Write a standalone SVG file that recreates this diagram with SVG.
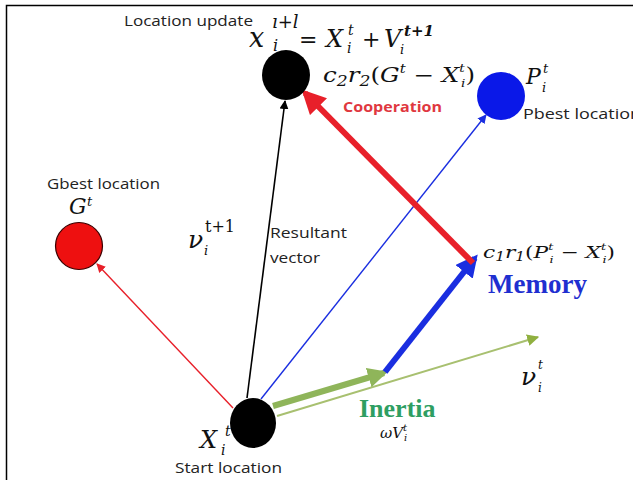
<svg xmlns="http://www.w3.org/2000/svg" width="633" height="480" viewBox="0 0 633 480">
<style>
.lbl{font-family:"Open Sans","Liberation Sans",Arial,sans-serif;font-size:14.5px;fill:#222}
.m{font-family:"DejaVu Serif","Liberation Serif",serif;font-style:italic;fill:#111}
.mu{font-family:"DejaVu Serif","Liberation Serif",serif;fill:#111}
.bold{font-family:"Liberation Serif","Times New Roman",serif;font-weight:bold}
</style>
<defs>
<marker id="hk" viewBox="0 0 10 10" refX="9" refY="5" markerWidth="9" markerHeight="9" markerUnits="userSpaceOnUse" orient="auto"><path d="M0,0 L10,5 L0,10 z" fill="#000"/></marker>
<marker id="hr" viewBox="0 0 10 10" refX="9" refY="5" markerWidth="9" markerHeight="9" markerUnits="userSpaceOnUse" orient="auto"><path d="M0,0 L10,5 L0,10 z" fill="#e8202a"/></marker>
<marker id="hb" viewBox="0 0 10 10" refX="9" refY="5" markerWidth="9" markerHeight="9" markerUnits="userSpaceOnUse" orient="auto"><path d="M0,0 L10,5 L0,10 z" fill="#1a2ee0"/></marker>
<marker id="hg" viewBox="0 0 10 10" refX="9" refY="5" markerWidth="12" markerHeight="12" markerUnits="userSpaceOnUse" orient="auto"><path d="M0,0 L10,5 L0,10 z" fill="#90b040"/></marker>
<marker id="HR" viewBox="0 0 10 10" refX="8" refY="5" markerWidth="24" markerHeight="24" markerUnits="userSpaceOnUse" orient="auto"><path d="M0,0 L10,5 L0,10 z" fill="#e8202a"/></marker>
<marker id="HB" viewBox="0 0 10 10" refX="8" refY="5" markerWidth="22" markerHeight="22" markerUnits="userSpaceOnUse" orient="auto"><path d="M0,0 L10,5 L0,10 z" fill="#1a2ee0"/></marker>
<marker id="HG" viewBox="0 0 10 10" refX="8" refY="5" markerWidth="20" markerHeight="20" markerUnits="userSpaceOnUse" orient="auto"><path d="M0,0 L10,5 L0,10 z" fill="#8fb55a"/></marker>
</defs>
<rect width="633" height="480" fill="#fff"/>
<path d="M6.5,480 V5.5 H633" fill="none" stroke="#000" stroke-width="1.5"/>

<g id="connectors" fill="none">
<line x1="247" y1="398" x2="285" y2="101" stroke="#000" stroke-width="1.6" marker-end="url(#hk)"/>
<line x1="233" y1="408" x2="97" y2="264" stroke="#e8202a" stroke-width="1.4" marker-end="url(#hr)"/>
<line x1="261" y1="399" x2="486" y2="115" stroke="#1a2ee0" stroke-width="1.4" marker-end="url(#hb)"/>
<line x1="277" y1="416" x2="538" y2="337" stroke="#a8c070" stroke-width="2" marker-end="url(#hg)"/>
<line x1="273" y1="406" x2="384" y2="373" stroke="#8fb55a" stroke-width="6" marker-end="url(#HG)"/>
<line x1="385" y1="372" x2="475" y2="258" stroke="#1a2ee0" stroke-width="6" marker-end="url(#HB)"/>
<line x1="473" y1="263" x2="305" y2="93" stroke="#e8202a" stroke-width="6" marker-end="url(#HR)"/>
</g>

<g id="node-update">
<ellipse cx="286" cy="75" rx="24" ry="25" fill="#000"/>
<text class="lbl" x="124" y="26" textLength="129" lengthAdjust="spacingAndGlyphs">Location update</text>
<text class="m" x="249" y="47" font-size="27">x</text>
<text class="mu" x="272" y="28" font-size="18" font-style="italic">ı+l</text>
<text class="m" x="273" y="51" font-size="16">i</text>
<text class="mu" x="299" y="47" font-size="22">=</text>
<text class="m" x="326" y="47" font-size="24">X</text>
<text class="m" x="348" y="35" font-size="14">t</text>
<text class="m" x="347" y="53" font-size="14">i</text>
<text class="mu" x="362" y="47" font-size="22">+</text>
<text class="m" x="384" y="47" font-size="24">V</text>
<text class="m" x="404" y="36" font-size="15" font-weight="bold">t+1</text>
<text class="m" x="400" y="54" font-size="13">i</text>
</g>

<g id="node-pbest">
<circle cx="501" cy="96" r="24" fill="#0a18e8"/>
<text class="m" x="526" y="84" font-size="22">P</text>
<text class="m" x="543" y="73" font-size="13">t</text>
<text class="m" x="542" y="92" font-size="13">i</text>
<text class="lbl" x="523" y="119" textLength="118" lengthAdjust="spacingAndGlyphs">Pbest location</text>
</g>

<g id="node-gbest">
<circle cx="79" cy="246" r="23.5" fill="#ee1010" stroke="#3a0000" stroke-width="1.2"/>
<text class="lbl" x="47" y="189" textLength="113" lengthAdjust="spacingAndGlyphs">Gbest location</text>
<text class="m" x="69" y="214" font-size="22">G</text>
<text class="m" x="87" y="206" font-size="13">t</text>
</g>

<g id="node-start">
<ellipse cx="253" cy="423" rx="23" ry="25" fill="#000"/>
<text class="m" x="200" y="448" font-size="24">X</text>
<text class="m" x="225" y="436" font-size="14">t</text>
<text class="m" x="221" y="455" font-size="14">i</text>
<text class="lbl" x="175" y="473" textLength="107" lengthAdjust="spacingAndGlyphs">Start location</text>
</g>

<g id="labels">
<text x="323" y="82" font-size="20" fill="#30a870" class="m" textLength="152" lengthAdjust="spacingAndGlyphs">c<tspan font-size="14" dy="4">2</tspan><tspan dy="-4">r</tspan><tspan font-size="14" dy="4">2</tspan><tspan dy="-4" font-style="normal">(</tspan>G<tspan font-size="12" dy="-9">t</tspan><tspan dy="9" font-style="normal"> − </tspan>X<tspan font-size="11" dy="-10">t</tspan><tspan font-size="11" dx="-3" dy="15">i</tspan><tspan dy="-5" font-style="normal">)</tspan></text>
<text x="343" y="112" font-family="Open Sans,Liberation Sans,Arial,sans-serif" font-weight="bold" font-size="14.5" fill="#e0383f" textLength="99" lengthAdjust="spacingAndGlyphs">Cooperation</text>

<text class="m" x="188" y="248" font-size="25">ν</text>
<text class="mu" x="205" y="232" font-size="16">t+1</text>
<text class="m" x="204" y="255" font-size="13">i</text>
<text class="lbl" x="270" y="238" textLength="77" lengthAdjust="spacingAndGlyphs">Resultant</text>
<text class="lbl" x="270" y="263" textLength="50" lengthAdjust="spacingAndGlyphs">vector</text>

<text x="483" y="258" font-size="17" fill="#3a90c8" class="m" textLength="132" lengthAdjust="spacingAndGlyphs">c<tspan font-size="12" dy="3">1</tspan><tspan dy="-3">r</tspan><tspan font-size="12" dy="3">1</tspan><tspan dy="-3" font-style="normal">(</tspan>P<tspan font-size="10" dy="-8">t</tspan><tspan font-size="10" dx="-3" dy="13">i</tspan><tspan dy="-5" font-style="normal"> − </tspan>X<tspan font-size="10" dy="-8">t</tspan><tspan font-size="10" dx="-3" dy="13">i</tspan><tspan dy="-5" font-style="normal">)</tspan></text>
<text class="bold" x="488" y="293" font-size="27" fill="#1f2fd0">Memory</text>

<text class="m" x="521" y="385" font-size="25">ν</text>
<text class="m" x="538" y="369" font-size="12">t</text>
<text class="m" x="538" y="392" font-size="12">i</text>

<text class="bold" x="359" y="417" font-size="26" fill="#2e9e62">Inertia</text>
<text class="m" x="380" y="438" font-size="15" fill="#30a870">ωV<tspan font-size="10" dy="-7">t</tspan><tspan font-size="10" dx="-3" dy="10">i</tspan></text>
</g>
</svg>
